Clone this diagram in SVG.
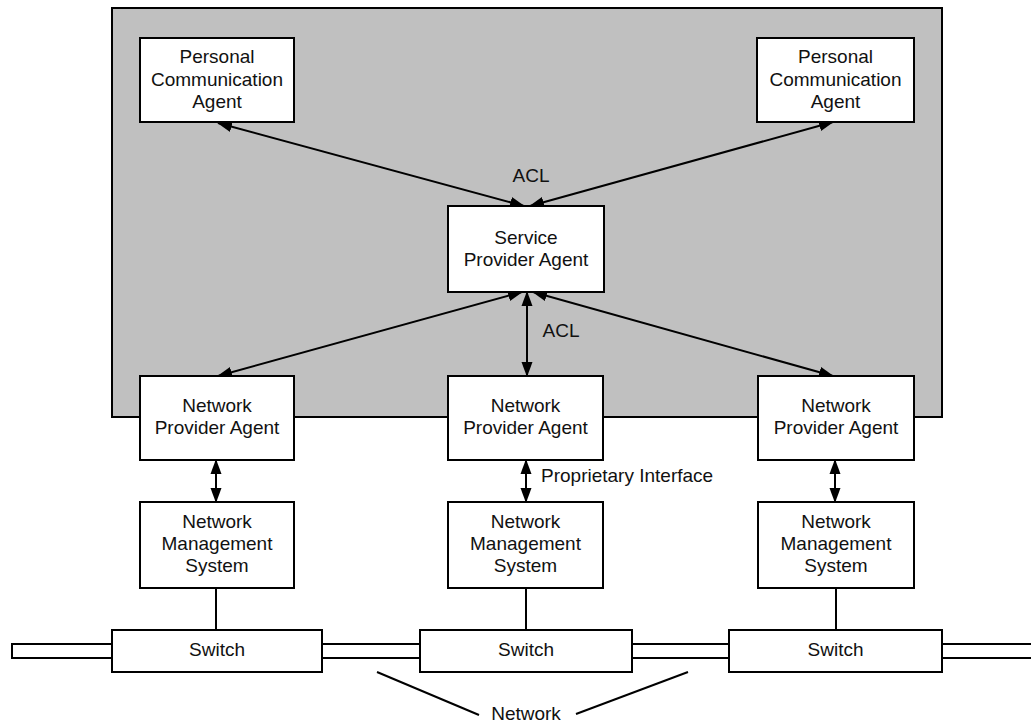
<svg xmlns="http://www.w3.org/2000/svg" width="1031" height="723" viewBox="0 0 1031 723">
<defs>
<style>
.box{fill:#fff;stroke:#000;stroke-width:2}
.pipe{fill:#fff;stroke:#000;stroke-width:2}
.t{font-family:"Liberation Sans",Arial,sans-serif;font-size:19px;fill:#111;text-anchor:middle}
.tl{font-family:"Liberation Sans",Arial,sans-serif;font-size:19px;fill:#111}
.c{stroke:#000;stroke-width:2;fill:none}
.a{stroke:#000;stroke-width:2;fill:none;marker-start:url(#ah);marker-end:url(#ah)}
</style>
<marker id="ah" markerUnits="userSpaceOnUse" markerWidth="15" markerHeight="12" refX="14" refY="5.5" orient="auto-start-reverse" viewBox="0 0 15 11">
<path d="M0,0 L15,5.5 L0,11 z" fill="#000"/>
</marker>
</defs>
<rect id="domain" x="112" y="8" width="830" height="409" fill="#c0c0c0" stroke="#000" stroke-width="2"/>
<g id="connectors">
<line class="a" x1="218" y1="123" x2="524" y2="206"/>
<line class="a" x1="833" y1="122" x2="530" y2="206"/>
<line class="a" x1="218" y1="376" x2="522" y2="292"/>
<line class="a" x1="527" y1="376" x2="527" y2="292"/>
<line class="a" x1="833" y1="376" x2="533" y2="292"/>
<line class="a" x1="216" y1="460" x2="216" y2="502"/>
<line class="a" x1="526" y1="460" x2="526" y2="502"/>
<line class="a" x1="835" y1="460" x2="835" y2="502"/>
<line class="c" x1="216" y1="588" x2="216" y2="630"/>
<line class="c" x1="526" y1="588" x2="526" y2="630"/>
<line class="c" x1="836" y1="588" x2="836" y2="630"/>
<line class="c" x1="377" y1="672" x2="479" y2="715"/>
<line class="c" x1="688" y1="672" x2="576" y2="714"/>
<text class="t" x="531" y="182">ACL</text>
<text class="t" x="561" y="337">ACL</text>
<text class="tl" x="541" y="482">Proprietary Interface</text>
</g>
<g id="network">
<rect class="pipe" x="12" y="644" width="100" height="14"/>
<rect class="pipe" x="322" y="644" width="98" height="14"/>
<rect class="pipe" x="632" y="644" width="97" height="14"/>
<rect class="pipe" x="942" y="644" width="100" height="14"/>
<text class="t" x="526" y="720">Network</text>
</g>
<g id="pca1">
<rect class="box" x="140" y="38" width="154" height="84"/>
<text class="t" x="217" y="63">Personal</text>
<text class="t" x="217" y="86">Communication</text>
<text class="t" x="217" y="108">Agent</text>
</g>
<g id="pca2">
<rect class="box" x="757" y="38" width="157" height="84"/>
<text class="t" x="835.5" y="63">Personal</text>
<text class="t" x="835.5" y="86">Communication</text>
<text class="t" x="835.5" y="108">Agent</text>
</g>
<g id="spa">
<rect class="box" x="448" y="206" width="156" height="86"/>
<text class="t" x="526" y="244">Service</text>
<text class="t" x="526" y="266">Provider Agent</text>
</g>
<g id="npa1">
<rect class="box" x="140" y="376" width="154" height="84"/>
<text class="t" x="217" y="412">Network</text>
<text class="t" x="217" y="434">Provider Agent</text>
</g>
<g id="npa2">
<rect class="box" x="448" y="376" width="155" height="84"/>
<text class="t" x="525.5" y="412">Network</text>
<text class="t" x="525.5" y="434">Provider Agent</text>
</g>
<g id="npa3">
<rect class="box" x="758" y="376" width="156" height="84"/>
<text class="t" x="836" y="412">Network</text>
<text class="t" x="836" y="434">Provider Agent</text>
</g>
<g id="nms1">
<rect class="box" x="140" y="502" width="154" height="86"/>
<text class="t" x="217" y="528">Network</text>
<text class="t" x="217" y="550">Management</text>
<text class="t" x="217" y="572">System</text>
</g>
<g id="nms2">
<rect class="box" x="448" y="502" width="155" height="86"/>
<text class="t" x="525.5" y="528">Network</text>
<text class="t" x="525.5" y="550">Management</text>
<text class="t" x="525.5" y="572">System</text>
</g>
<g id="nms3">
<rect class="box" x="758" y="502" width="156" height="86"/>
<text class="t" x="836" y="528">Network</text>
<text class="t" x="836" y="550">Management</text>
<text class="t" x="836" y="572">System</text>
</g>
<g id="sw1">
<rect class="box" x="112" y="630" width="210" height="42"/>
<text class="t" x="217" y="656">Switch</text>
</g>
<g id="sw2">
<rect class="box" x="420" y="630" width="212" height="42"/>
<text class="t" x="526" y="656">Switch</text>
</g>
<g id="sw3">
<rect class="box" x="729" y="630" width="213" height="42"/>
<text class="t" x="835.5" y="656">Switch</text>
</g>
</svg>
